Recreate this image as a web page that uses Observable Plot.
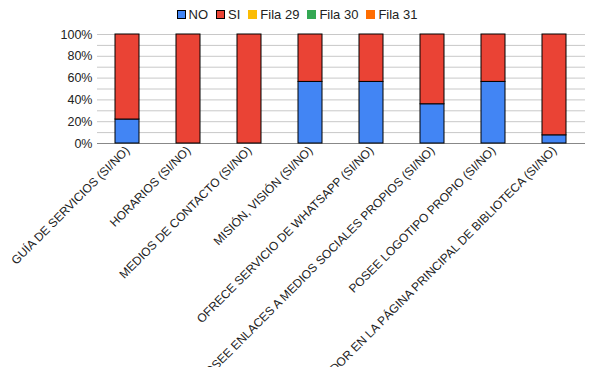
<!DOCTYPE html>
<html>
<head>
<meta charset="utf-8">
<script src="https://cdn.jsdelivr.net/npm/d3@7"></script>
<script src="https://cdn.jsdelivr.net/npm/@observablehq/plot@0.6"></script>
<style>
  body { margin: 0; background: #fff; font-family: "Liberation Sans", Arial, sans-serif; }
  #legend { height: 27px; display: flex; justify-content: center; align-items: center; font-size: 13px; color: #222; box-sizing: border-box; padding-top: 2px; }
  .item { display: flex; align-items: center; margin: 0 4px; }
  .sw { width: 9px; height: 9px; margin-right: 3px; box-sizing: border-box; }
  #chart svg { display: block; }
</style>
</head>
<body>
<div id="legend"></div>
<div id="chart"></div>
<script>
const categories = [
  "GUÍA DE SERVICIOS (SI/NO)",
  "HORARIOS (SI/NO)",
  "MEDIOS DE CONTACTO (SI/NO)",
  "MISIÓN, VISIÓN (SI/NO)",
  "OFRECE SERVICIO DE WHATSAPP (SI/NO)",
  "POSEE ENLACES A MEDIOS SOCIALES PROPIOS (SI/NO)",
  "POSEE LOGOTIPO PROPIO (SI/NO)",
  "POSEE BUSCADOR EN LA PÁGINA PRINCIPAL DE BIBLIOTECA (SI/NO)"
];
const noValues = [0.22, 0, 0, 0.565, 0.565, 0.36, 0.565, 0.075];
const siValues = noValues.map(v => 1 - v);
const seriesNames = ["NO", "SI", "Fila 29", "Fila 30", "Fila 31"];
const seriesColors = ["#4285F4", "#EA4335", "#FBBC04", "#34A853", "#FF6D01"];
const bordered = [true, true, false, false, false];

const data = [];
categories.forEach((c, i) => {
  data.push({cat: c, series: "NO", value: noValues[i]});
  data.push({cat: c, series: "SI", value: siValues[i]});
});

const legend = document.getElementById("legend");
seriesNames.forEach((s, i) => {
  const it = document.createElement("div");
  it.className = "item";
  const sw = document.createElement("div");
  sw.className = "sw";
  sw.style.background = seriesColors[i];
  if (bordered[i]) sw.style.border = "1px solid #000";
  it.appendChild(sw);
  const t = document.createElement("span");
  t.textContent = s;
  it.appendChild(t);
  legend.appendChild(it);
});

const chart = Plot.plot({
  width: 594,
  height: 340,
  marginTop: 7,
  marginLeft: 97,
  marginRight: 9,
  marginBottom: 224,
  style: {fontFamily: "'Liberation Sans', Arial, sans-serif", fontSize: "12px", color: "#222"},
  x: {domain: categories, paddingInner: 0.6, paddingOuter: 0.3, label: null},
  y: {domain: [0, 1], label: null},
  color: {domain: seriesNames, range: seriesColors},
  marks: [
    Plot.ruleY(d3.range(1, 11).map(d => d / 10), {stroke: "#c8c8c8", strokeWidth: 1}),
    Plot.ruleY([0], {stroke: "#888"}),
    Plot.barY(data, {x: "cat", y: "value", fill: "series", stroke: "#000", strokeWidth: 1}),
    Plot.axisY({ticks: [0, 0.2, 0.4, 0.6, 0.8, 1], tickFormat: d3.format(".0%"), tickSize: 0, tickPadding: 5, fontSize: 12.5, label: null}),
    Plot.axisX({tickSize: 0, tickRotate: -45, tickPadding: 5, label: null, fontSize: 12})
  ]
});
document.getElementById("chart").appendChild(chart);
</script>
</body>
</html>
